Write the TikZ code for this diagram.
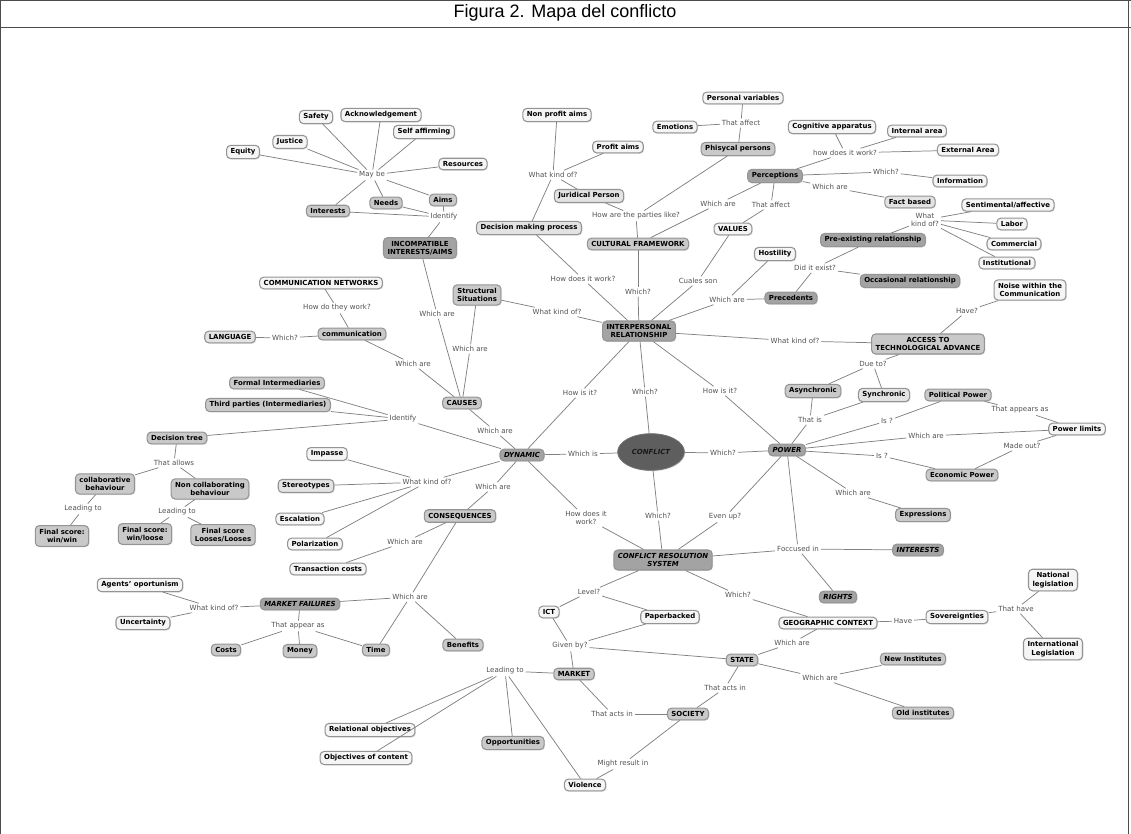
\documentclass[tikz,border=0pt]{standalone}
\usepackage{fontspec}
\setmainfont{DejaVu Sans}
\newfontfamily\titlefont{Liberation Sans}
\usetikzlibrary{shapes.geometric,shadows}
\newcommand\nf{\bfseries\fontsize{5.2}{6.3}\selectfont}
\newcommand\nfi{\bfseries\itshape\fontsize{5.2}{6.3}\selectfont}
\newcommand\lf{\fontsize{5.3}{6.2}\selectfont}
\begin{document}
\begin{tikzpicture}[x=0.75pt,y=-0.75pt,
  box/.style={draw=black!42, line width=0.8pt, rounded corners=3pt, font=\nf, inner xsep=3pt, inner ysep=2.4pt, align=center,
    drop shadow={opacity=0.22, shadow xshift=0.7pt, shadow yshift=-0.7pt}},
  lt/.style={box, fill=black!4},
  lg/.style={box, fill=black!11},
  md/.style={box, fill=black!21},
  dk/.style={box, fill=black!36},
  it/.style={font=\nfi},
  lb/.style={font=\lf, text=black!68, inner sep=1.3pt, align=center},
  ln/.style={draw=black!50, line width=0.55pt}]
\fill[white] (0,0) rectangle (1131,834);
\useasboundingbox (0,0) rectangle (1131,834);
\draw[black!70, line width=0.6pt] (0,0.5) -- (1131,0.5);
\draw[black!70, line width=0.6pt] (0,27) -- (1131,27);
\draw[black!70, line width=0.6pt] (0.6,0) -- (0.6,834);
\draw[black!70, line width=0.6pt] (1128,0) -- (1128,834);
\node[font=\titlefont\fontsize{13.5}{15}\selectfont] (title) at (565,13) {Figura 2. Mapa del conflicto};

% top-left cluster
\node[lt] (safety) at (316,117) {Safety};
\node[lt] (ack) at (381,115) {Acknowledgement};
\node[lt] (selfaff) at (424,132) {Self affirming};
\node[lt] (justice) at (290,142) {Justice};
\node[lt] (equity) at (243,152) {Equity};
\node[lt] (resources) at (463,164) {Resources};
\node[lb] (maybe) at (372,175) {May be};
\node[md] (aims) at (443,200) {Aims};
\node[md] (needs) at (386,203) {Needs};
\node[md] (interests) at (328,211) {Interests};
\node[lb] (ident1) at (444,217) {Identify};
\node[dk] (incomp) at (420,248) {INCOMPATIBLE\\INTERESTS/AIMS};
\node[lt] (commnet) at (321,283) {COMMUNICATION NETWORKS};
\node[lb] (howwork) at (337,308) {How do they work?};
\node[md] (comm) at (352,334) {communication};
\node[lg] (lang) at (230,337) {LANGUAGE};
\node[lb] (whichlang) at (285,338) {Which?};
\node[lb] (wa1) at (437,314) {Which are};
\node[lb] (wa2) at (413,364) {Which are};
\node[md] (struct) at (477,295) {Structural\\Situations};
\node[lb] (wa3) at (470,349) {Which are};
\node[lb] (wko1) at (557,312) {What kind of?};
\node[md] (causes) at (462,403) {CAUSES};
\node[lb] (wa4) at (495,431) {Which are};
\node[dk,it] (dynamic) at (522,455) {DYNAMIC};

% left cluster
\node[md] (formal) at (277,383) {Formal Intermediaries};
\node[md] (third) at (268,405) {Third parties (Intermediaries)};
\node[lb] (ident2) at (403,419) {Identify};
\node[md] (dtree) at (177,438) {Decision tree};
\node[lb] (allows) at (174,463) {That allows};
\node[md] (collab) at (105,484) {collaborative\\behaviour};
\node[md] (noncollab) at (210,489) {Non collaborating\\behaviour};
\node[lb] (lead1) at (83,509) {Leading to};
\node[lb] (lead2) at (177,512) {Leading to};
\node[md] (fs1) at (62,536) {Final score:\\win/win};
\node[md] (fs2) at (145,534) {Final score:\\win/loose};
\node[md] (fs3) at (223,535) {Final score\\Looses/Looses};
\node[lt] (impasse) at (327,454) {Impasse};
\node[lg] (stereo) at (306,486) {Stereotypes};
\node[lt] (escal) at (300,519) {Escalation};
\node[lt] (polar) at (315,544) {Polarization};
\node[lb] (wko2) at (427,482) {What kind of?};
\node[lb] (wa5) at (493,487) {Which are};
\node[md] (conseq) at (460,516) {CONSEQUENCES};
\node[lb] (wa6) at (405,542) {Which are};
\node[lt] (trans) at (328,569) {Transaction costs};
\node[lb] (wa7) at (410,597) {Which are};
\node[dk,it] (mfail) at (300,604) {MARKET FAILURES};
\node[lb] (wko3) at (214,608) {What kind of?};
\node[lt] (agents) at (140,585) {Agents' oportunism};
\node[lt] (uncert) at (143,623) {Uncertainty};
\node[lb] (appear) at (298,626) {That appear as};
\node[md] (costs) at (226,650) {Costs};
\node[md] (money) at (300,651) {Money};
\node[md] (time) at (376,650) {Time};
\node[md] (benefits) at (463,645) {Benefits};

% center
\node[ellipse, draw=black!55, fill=black!63, line width=0.6pt, minimum width=48pt, minimum height=27.5pt, font=\nfi, text=black!90,
  drop shadow={opacity=0.22, shadow xshift=0.7pt, shadow yshift=-0.7pt}] (conflict) at (651,452) {CONFLICT};
\node[lb] (whichis) at (583,454) {Which is};
\node[dk] (interp) at (639,331) {INTERPERSONAL\\RELATIONSHIP};
\node[lb] (howis1) at (580,393) {How is it?};
\node[lb] (which1) at (645,392) {Which?};
\node[lb] (howis2) at (720,391) {How is it?};
\node[lb] (which2) at (723,453) {Which?};
\node[dk,it] (power) at (787,450) {POWER};
\node[lb] (howdoes1) at (586,518) {How does it\\work?};
\node[lb] (which3) at (658,516) {Which?};
\node[lb] (evenup) at (725,517) {Even up?};
\node[dk,it] (crs) at (663,560) {CONFLICT RESOLUTION\\SYSTEM};
\node[lb] (focc) at (798,549) {Foccused in};
\node[dk,it] (interests2) at (918,550) {INTERESTS};
\node[dk,it] (rights) at (838,597) {RIGHTS};

% upper middle
\node[lt] (nonprofit) at (557,115) {Non profit aims};
\node[lt] (profit) at (618,147) {Profit aims};
\node[lb] (wko4) at (553,175) {What kind of?};
\node[lg] (jurid) at (589,196) {Juridical Person};
\node[lg] (decision) at (529,228) {Decision making process};
\node[lb] (parties) at (636,216) {How are the parties like?};
\node[md] (phys) at (738,149) {Phisycal persons};
\node[lt] (emotions) at (675,127) {Emotions};
\node[lb] (affect1) at (741,123) {That affect};
\node[lt] (persvar) at (743,98) {Personal variables};
\node[lt] (cogn) at (832,127) {Cognitive apparatus};
\node[lt] (internal) at (917,131) {Internal area};
\node[lt] (external) at (968,150) {External Area};
\node[lb] (howdoes2) at (845,153) {how does it work?};
\node[dk] (percep) at (775,176) {Perceptions};
\node[lb] (which4) at (886,172) {Which?};
\node[lt] (info) at (960,181) {Information};
\node[lb] (wa8) at (830,187) {Which are};
\node[lg] (fact) at (910,202) {Fact based};
\node[lb] (wa9) at (718,204) {Which are};
\node[lb] (affect2) at (771,205) {That affect};
\node[lt] (values) at (733,229) {VALUES};
\node[md] (cultural) at (638,244) {CULTURAL FRAMEWORK};
\node[lb] (which5) at (638,292) {Which?};
\node[lb] (howdoes3) at (583,279) {How does it work?};
\node[lb] (cuales) at (698,281) {Cuales son};
\node[lt] (hostility) at (775,254) {Hostility};
\node[lb] (wa10) at (727,300) {Which are};
\node[dk] (preced) at (791,298) {Precedents};
\node[lb] (exist) at (815,268) {Did it exist?};
\node[dk] (preexist) at (873,240) {Pre-existing relationship};
\node[dk] (occas) at (910,281) {Occasional relationship};
\node[lb] (wko5) at (925,220) {What\\kind of?};
\node[lt] (sentim) at (1008,205) {Sentimental/affective};
\node[lt] (labor) at (1012,224) {Labor};
\node[lt] (commerc) at (1014,244) {Commercial};
\node[lt] (instit) at (1007,263) {Institutional};
\node[lt] (noise) at (1030,290) {Noise within the\\Communication};
\node[lb] (have1) at (967,311) {Have?};
\node[md] (access) at (928,344) {ACCESS TO\\TECHNOLOGICAL ADVANCE};
\node[lb] (wko6) at (795,341) {What kind of?};
\node[lb] (dueto) at (873,364) {Due to?};
\node[md] (async) at (813,391) {Asynchronic};
\node[lg] (sync) at (884,395) {Synchronic};
\node[lb] (thatis) at (810,420) {That is};
\node[md] (polit) at (958,395) {Political Power};
\node[lb] (appears) at (1020,410) {That appears as};
\node[lt] (plimits) at (1077,429) {Power limits};
\node[lb] (is1) at (887,421) {Is ?};
\node[lb] (wa11) at (926,436) {Which are};
\node[lb] (madeout) at (1022,446) {Made out?};
\node[lb] (is2) at (882,456) {Is ?};
\node[md] (econ) at (962,475) {Economic Power};
\node[lb] (wa12) at (853,493) {Which are};
\node[md] (express) at (923,515) {Expressions};

% lower right
\node[lb] (level) at (589,592) {Level?};
\node[lt] (ict) at (549,612) {ICT};
\node[lt] (paper) at (670,617) {Paperbacked};
\node[lb] (which6) at (738,595) {Which?};
\node[lt] (geo) at (828,623) {GEOGRAPHIC CONTEXT};
\node[lb] (have2) at (903,621) {Have};
\node[lt] (sover) at (957,617) {Sovereignties};
\node[lb] (thathave) at (1016,609) {That have};
\node[lt] (natleg) at (1053,580) {National\\legislation};
\node[lt] (intleg) at (1053,649) {International\\Legislation};
\node[lb] (given) at (570,646) {Given by?};
\node[lb] (wa13) at (792,643) {Which are};
\node[md] (state) at (742,660) {STATE};
\node[lb] (wa14) at (820,678) {Which are};
\node[md] (newinst) at (913,659) {New Institutes};
\node[md] (oldinst) at (923,713) {Old institutes};
\node[md] (market) at (574,674) {MARKET};
\node[lb] (lead3) at (505,671) {Leading to};
\node[lb] (acts1) at (725,688) {That acts in};
\node[lb] (acts2) at (612,714) {That acts in};
\node[md] (society) at (688,714) {SOCIETY};
\node[lb] (might) at (623,764) {Might result in};
\node[lt] (violence) at (585,785) {Violence};
\node[lt] (relobj) at (370,730) {Relational objectives};
\node[lt] (objcont) at (366,758) {Objectives of content};
\node[md] (opport) at (513,743) {Opportunities};

\foreach \a/\b in {maybe/safety, maybe/ack, maybe/selfaff, maybe/justice, maybe/equity, maybe/resources, maybe/aims, maybe/needs, maybe/interests,
  ident1/interests, ident1/needs, ident1/aims, ident1/incomp,
  incomp/wa1, wa1/causes, commnet/howwork, howwork/comm, lang/whichlang, whichlang/comm,
  comm/wa2, wa2/causes, struct/wa3, wa3/causes, struct/wko1, wko1/interp, causes/wa4, wa4/dynamic,
  formal/ident2, third/ident2, dtree/ident2, ident2/dynamic,
  dtree/allows, allows/collab, allows/noncollab, collab/lead1, lead1/fs1,
  noncollab/lead2, lead2/fs2, lead2/fs3,
  impasse/wko2, stereo/wko2, escal/wko2, polar/wko2, wko2/dynamic,
  dynamic/wa5, wa5/conseq, conseq/wa6, wa6/trans,
  conseq/wa7, wa7/mfail, wa7/time, wa7/benefits,
  mfail/wko3, wko3/agents, wko3/uncert, mfail/appear, appear/costs, appear/money, appear/time,
  dynamic/howis1, howis1/interp, dynamic/whichis, whichis/conflict, dynamic/howdoes1, howdoes1/crs,
  interp/which1, which1/conflict, interp/howis2, howis2/power, conflict/which2, which2/power,
  conflict/which3, which3/crs, power/evenup, evenup/crs,
  decision/howdoes3, howdoes3/interp,
  nonprofit/wko4, profit/wko4, wko4/jurid, wko4/decision,
  jurid/parties, phys/parties, parties/cultural,
  phys/affect1, affect1/emotions, affect1/persvar,
  cultural/which5, which5/interp, cultural/wa9, wa9/percep,
  percep/affect2, affect2/values, values/cuales, cuales/interp,
  percep/howdoes2, howdoes2/cogn, howdoes2/internal, howdoes2/external,
  percep/which4, which4/info, percep/wa8, wa8/fact,
  interp/wa10, wa10/preced, wa10/hostility,
  preced/exist, exist/preexist, exist/occas,
  preexist/wko5, wko5/sentim, wko5/labor, wko5/commerc, wko5/instit,
  interp/wko6, wko6/access, access/have1, have1/noise,
  access/dueto, dueto/async, dueto/sync, async/thatis, sync/thatis, thatis/power,
  power/is1, is1/polit, power/wa11, wa11/plimits, power/is2, is2/econ,
  polit/appears, appears/plimits, plimits/madeout, madeout/econ,
  power/wa12, wa12/express,
  crs/focc, power/focc, focc/interests2, focc/rights,
  crs/level, level/ict, level/paper, crs/which6, which6/geo,
  geo/have2, have2/sover, sover/thathave, thathave/natleg, thathave/intleg,
  ict/given, paper/given, given/state, given/market,
  geo/wa13, wa13/state, state/wa14, wa14/newinst, wa14/oldinst,
  state/acts1, acts1/society, market/acts2, acts2/society,
  market/lead3, lead3/relobj, lead3/objcont, lead3/opport, lead3/violence,
  society/might, might/violence}
  \draw[ln] (\a) -- (\b);
\end{tikzpicture}
\end{document}
